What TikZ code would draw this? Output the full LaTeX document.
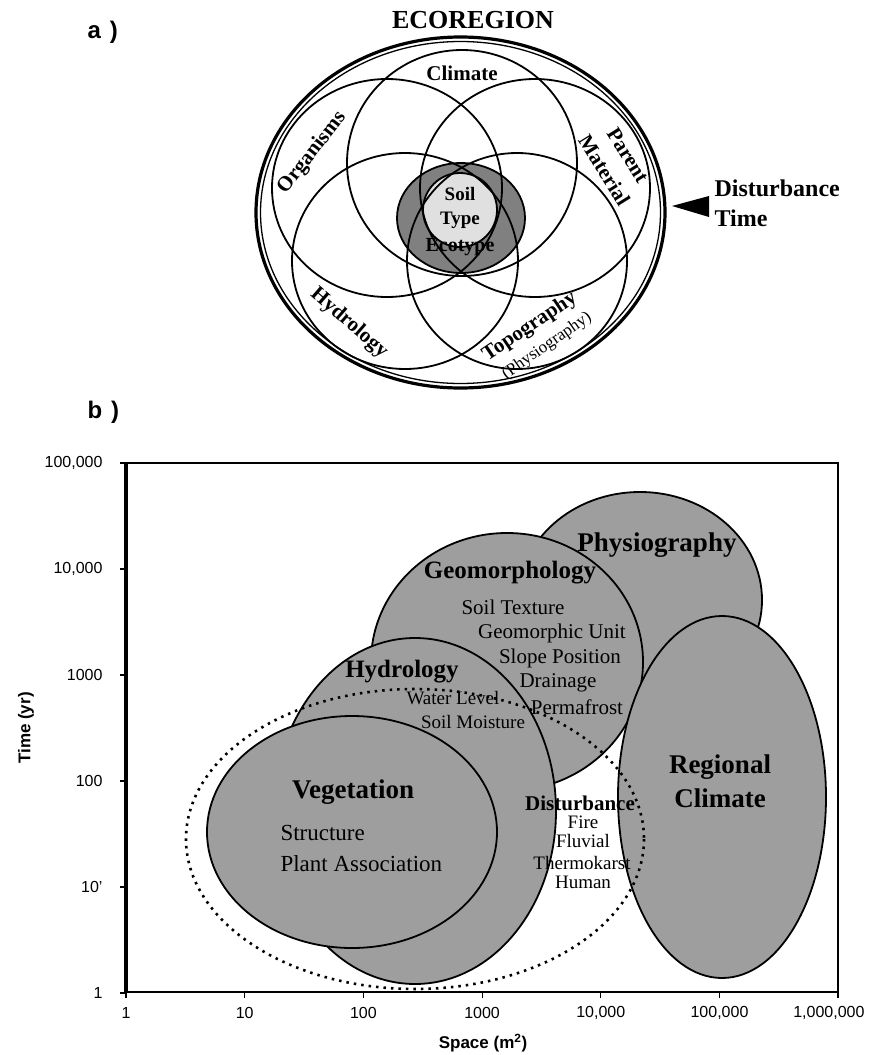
\documentclass[tikz,border=0pt]{standalone}
\usepackage{fontspec}
\setmainfont{Liberation Serif}
\setsansfont{Liberation Sans}
\newcommand{\fsz}[1]{\fontsize{#1}{#1}\selectfont}

\begin{document}
\begin{tikzpicture}[x=1pt,y=-1pt,
  ring/.style={line width=1.8pt},
  zone/.style={draw, line width=1.8pt, fill=black!38},
  factor/.style={font=\bfseries\fsz{21}},
  zonename/.style={font=\bfseries\fsz{25}},
  zoneitem/.style={font=\fsz{21}},
  ticklab/.style={font=\sffamily\fsz{16}},
  axislab/.style={font=\sffamily\bfseries\fsz{17}},
  panel/.style={font=\sffamily\bfseries\fsz{24}, anchor=west}
]
\useasboundingbox (0,0) rectangle (870,1055);

% ---------- a) soil forming factors ----------
\node[panel] (alab) at (84,32) {a\hspace{9pt})};
\node[font=\bfseries\fsz{26}] (ecoregion) at (473,20) {ECOREGION};

% ecoregion boundary, double line
\draw[line width=3.2pt] (460.5,212.5) ellipse [x radius=204.5, y radius=175.5];
\draw[line width=1.3pt] (460.5,212.5) ellipse [x radius=200, y radius=171];

% ecotype and soil type
\draw[ring, fill=black!50] (461,218) ellipse [x radius=64, y radius=55];
\draw[ring, fill=black!12] (460,210) circle [radius=37];

% climate, organisms, parent material, hydrology, topography
\foreach \cx/\cy/\rx/\ry in {462/163/115/113, 387/188/115/109, 535/188/115/109,
                             405/261/113/108, 517/261/110/108}
  \draw[ring] (\cx,\cy) ellipse [x radius=\rx, y radius=\ry];

\node[factor] (climate) at (462,73) {Climate};
\node[factor, rotate=52] (organisms) at (312,153) {Organisms};
\node[factor, rotate=-58, align=center, font=\bfseries\fontsize{21}{28}\selectfont]
  (parent) at (616,163) {Parent\\Material};
\node[factor, rotate=-41] (hydro) at (349,323) {Hydrology};
\node[factor, rotate=34] (topo) at (530,327) {Topography};
\node[font=\fsz{17}, rotate=35] (physio) at (547,346) {(Physiography)};
\node[align=center, font=\bfseries\fontsize{19}{24}\selectfont] (soiltype) at (460,208) {Soil\\Type};
\node[font=\bfseries\fsz{20}] (ecotype) at (460,247) {Ecotype};

% disturbance and time act from outside
\node[align=left, anchor=west, font=\bfseries\fontsize{24}{30}\selectfont]
  (dist) at (711,203) {Disturbance\\Time};
\coordinate (dtip) at (672,206);
\fill (dtip) -- ++(37,-10) -- ++(0,21) -- cycle;

% ---------- b) space-time scales ----------
\node[panel] (blab) at (84,412) {b\hspace{9pt})};

% frame and axes
\draw[line width=1.5pt] (126,463) -- (838,463) -- (838,992) -- (126,992);
\draw[line width=3.5pt] (126,463) -- (126,993);
\foreach \k/\lab in {0/1, 1/10', 2/100, 3/1000, 4/{10,000}, 5/{100,000}} {
  \draw[line width=1.2pt] (120,993-106*\k) -- (126,993-106*\k);
  \node[ticklab, anchor=east] (ty\k) at (106,993-106*\k) {\lab};
}
\foreach \k/\lab in {0/1, 1/10, 2/100, 3/1000, 4/{10,000}, 5/{100,000}} {
  \draw[line width=1.2pt] (126+118.7*\k,992) -- (126+118.7*\k,998);
  \node[ticklab] (tx\k) at (126+118.7*\k,1013) {\lab};
}
\draw[line width=1.2pt] (838,992) -- (838,998);
\node[ticklab, anchor=east] (tx6) at (868,1013) {1,000,000};
\node[axislab, rotate=90] (ylab) at (26,728) {Time (yr)};
\node[axislab] (xlab) at (483,1043) {Space (m\textsuperscript{2})};

% scale domains
\draw[zone] (640,600) ellipse [x radius=122, y radius=108];  % physiography
\draw[zone] (507,662) ellipse [x radius=136, y radius=129];  % geomorphology
\draw[zone] (722,797) ellipse [x radius=104, y radius=181];  % regional climate
\draw[zone] (415,811) ellipse [x radius=141, y radius=173];  % hydrology
\draw[zone] (352,832) ellipse [x radius=145, y radius=116];  % vegetation
\draw[line width=2.6pt, dash pattern=on 2.5pt off 5pt] (415,839) ellipse [x radius=229, y radius=150];

\node[zonename, font=\bfseries\fsz{27}] (phys) at (657,545) {Physiography};
\node[zonename] (geom) at (510,573) {Geomorphology};
\node[zoneitem] (texture) at (513,607) {Soil Texture};
\node[zoneitem] (unit) at (552,633) {Geomorphic Unit};
\node[zoneitem] (slope) at (560,658) {Slope Position};
\node[zoneitem] (drain) at (558,683) {Drainage};
\node[zoneitem] (perma) at (577,707) {Permafrost};
\node[zonename] (hyd) at (402,672) {Hydrology};
\node[zoneitem, font=\fsz{19}] (water) at (453,698) {Water Level};
\node[zoneitem, font=\fsz{19}] (moist) at (473,722) {Soil Moisture};
\node[zonename, font=\bfseries\fsz{27}] (veg) at (353,792) {Vegetation};
\node[zoneitem, font=\fsz{23}, anchor=west] (struct) at (277,833) {Structure};
\node[zoneitem, font=\fsz{23}, anchor=west] (plant) at (277,864) {Plant Association};
\node[zonename, font=\bfseries\fsz{21}] (disturb) at (580,803) {Disturbance};
\node[zoneitem, font=\fsz{19}] (fire) at (583,822) {Fire};
\node[zoneitem, font=\fsz{19}] (fluv) at (583,841) {Fluvial};
\node[zoneitem, font=\fsz{19}] (thermo) at (582,863) {Thermokarst};
\node[zoneitem, font=\fsz{19}] (human) at (583,882) {Human};
\node[align=center, font=\bfseries\fontsize{27}{34}\selectfont]
  (regclim) at (720,781) {Regional\\Climate};

\end{tikzpicture}
\end{document}
